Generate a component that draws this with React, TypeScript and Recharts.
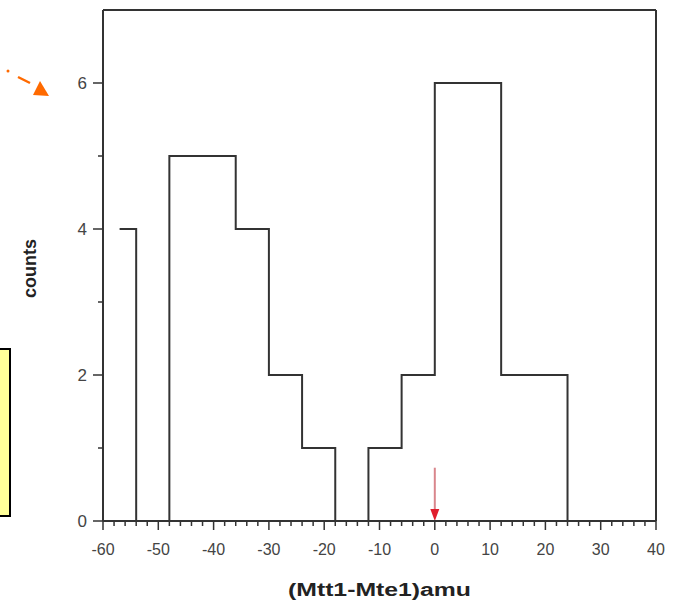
import React from "react";
import { LineChart, Line, XAxis, YAxis, ReferenceLine } from "recharts";

// Histogram step outline: bin start positions (amu) and counts
const binStarts = [-57, -54, -48, -42, -36, -30, -24, -18, -12, -6, 0, 6, 12, 18, 24];
const counts = [4, 0, 5, 5, 4, 2, 1, 0, 1, 2, 6, 6, 2, 2, 0];

const xMajorTicks = [-60, -50, -40, -30, -20, -10, 0, 10, 20, 30, 40];
const xTicks = [
  -60, -58, -56, -54, -52, -50, -48, -46, -44, -42, -40, -38, -36, -34, -32, -30, -28, -26, -24, -22,
  -20, -18, -16, -14, -12, -10, -8, -6, -4, -2, 0, 2, 4, 6, 8, 10, 12, 14, 16, 18, 20, 22, 24, 26,
  28, 30, 32, 34, 36, 38, 40,
];
const yMajorTicks = [0, 2, 4, 6];
const yTicks = [0, 1, 2, 3, 4, 5, 6, 7];

const markerX = 0;
const markerTop = 0.73;

const xLabel = "(Mtt1-Mte1)amu";
const yLabel = "counts";

const data = binStarts.map((x, i) => ({ x, count: counts[i] }));

const FONT = "'Liberation Sans', Arial, Helvetica, sans-serif";
const AXIS = "#333";

const XTick = (props: any) => {
  const { x, y, payload } = props;
  const v = payload.value;
  const major = xMajorTicks.includes(v);
  return (
    <g>
      <line x1={x} x2={x} y1={y} y2={y + (major ? 9 : 5)} stroke={AXIS} strokeWidth={1.5} />
      {major && (
        <text x={x} y={y + 34} textAnchor="middle" fontSize={16} fill="#444" fontFamily={FONT}>
          {v}
        </text>
      )}
    </g>
  );
};

const YTick = (props: any) => {
  const { x, y, payload } = props;
  const v = payload.value;
  const major = yMajorTicks.includes(v);
  if (v === 7) return <g />;
  return (
    <g>
      <line x1={x - (major ? 10 : 5)} x2={x} y1={y} y2={y} stroke={AXIS} strokeWidth={1.5} />
      {major && (
        <text x={x - 16} y={y + 6} textAnchor="end" fontSize={17} fill="#444" fontFamily={FONT}>
          {v}
        </text>
      )}
    </g>
  );
};

const RedArrow = (p: any) => {
  const { x1, y1, x2, y2 } = p;
  return (
    <g>
      <line x1={x2} y1={y2} x2={x1} y2={y1 - 8} stroke="#d9868c" strokeWidth={2} />
      <polygon points={`${x1 - 4.5},${y1 - 12} ${x1 + 4.5},${y1 - 12} ${x1},${y1}`} fill="#e01e2e" />
    </g>
  );
};

export default function App() {
  return (
    <div style={{ position: "absolute", left: 0, top: 0, width: 677, height: 600, background: "#fff" }}>
      <LineChart
        width={677}
        height={600}
        data={data}
        margin={{ top: 10, right: 21, bottom: 0, left: 0 }}
      >
        <XAxis
          dataKey="x"
          type="number"
          domain={[-60, 40]}
          ticks={xTicks}
          interval={0}
          tickSize={0}
          tickMargin={0}
          tickLine={false}
          tick={<XTick />}
          axisLine={{ stroke: AXIS, strokeWidth: 2 }}
          height={79}
          label={{
            content: (lp: any) => {
              const vb = lp.viewBox;
              return (
                <text
                  x={vb.x + vb.width / 2}
                  y={vb.y + 75}
                  textAnchor="middle"
                  fontSize={18}
                  fontWeight="bold"
                  fill="#222"
                  fontFamily={FONT}
                  textLength={183}
                  lengthAdjust="spacingAndGlyphs"
                >
                  {xLabel}
                </text>
              );
            },
          }}
        />
        <YAxis
          type="number"
          domain={[0, 7]}
          ticks={yTicks}
          interval={0}
          tickSize={0}
          tickMargin={0}
          tickLine={false}
          tick={<YTick />}
          axisLine={{ stroke: AXIS, strokeWidth: 2 }}
          width={103}
          label={{
            content: (lp: any) => {
              const vb = lp.viewBox;
              const cy = vb.y + vb.height / 2 + 3;
              return (
                <text
                  x={30}
                  y={cy}
                  transform={`rotate(-90, 30, ${cy})`}
                  textAnchor="middle"
                  dominantBaseline="central"
                  fontSize={18}
                  fontWeight="bold"
                  fill="#222"
                  fontFamily={FONT}
                >
                  {yLabel}
                </text>
              );
            },
          }}
        />
        <ReferenceLine y={7} stroke={AXIS} strokeWidth={2} />
        <ReferenceLine x={40} stroke={AXIS} strokeWidth={2} />
        <Line
          type="stepAfter"
          dataKey="count"
          stroke={AXIS}
          strokeWidth={2}
          dot={false}
          isAnimationActive={false}
        />
        <ReferenceLine
          segment={[
            { x: markerX, y: 0 },
            { x: markerX, y: markerTop },
          ]}
          shape={<RedArrow />}
        />
      </LineChart>
      <svg
        width={677}
        height={600}
        style={{ position: "absolute", left: 0, top: 0, pointerEvents: "none" }}
      >
        <rect x={-2} y={349} width={12} height={167} fill="#ffff99" stroke="#000" strokeWidth={2} />
        <circle cx={8} cy={71} r={1.5} fill="#ff6a00" />
        <line x1={18} y1={77} x2={30} y2={83} stroke="#ff6a00" strokeWidth={2.5} />
        <polygon points="33,95 49,96 40,81" fill="#ff6a00" />
      </svg>
    </div>
  );
}
